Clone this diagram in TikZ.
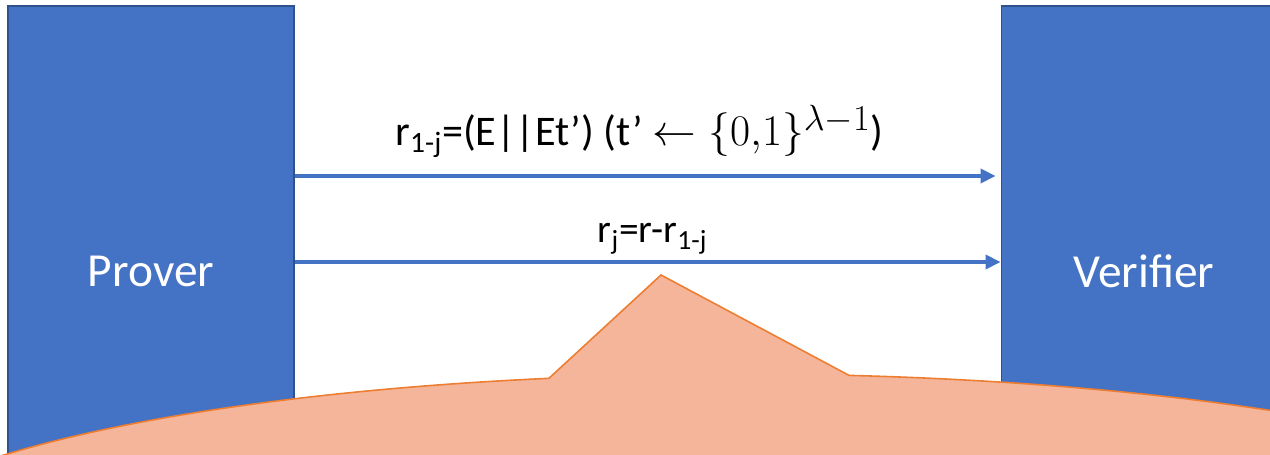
\documentclass[tikz,border=0pt]{standalone}
\usepackage[no-math]{fontspec}
\setmainfont{Carlito}
\usetikzlibrary{positioning, calc, arrows.meta}
\definecolor{Blue}{HTML}{4472C4}
\definecolor{BlueLine}{HTML}{2F528F}
\definecolor{Peach}{HTML}{F5B59B}
\definecolor{Orange}{HTML}{ED7D31}
\newcommand{\eqpart}[1]{{\fontsize{24.88}{30}\selectfont$#1$}}
\tikzset{
    party/.style={rectangle, fill=Blue, draw=BlueLine, line width=0.6pt, text=white, minimum width=5.72cm, minimum height=10.6cm, font=\fontsize{27}{32}\selectfont},
    msg/.style={-{Triangle[length=8.5pt, width=8pt]}, line width=2pt, color=Blue},
    msgtext/.style={text=black, anchor=base, font=\fontsize{22.5}{27}\selectfont},
    callout/.style={fill=Peach, draw=Orange, line width=0.9pt, line join=miter},
}

\begin{document}
\begin{tikzpicture}

        % area visibile
        \clip (0,0) rectangle (25.4,-9.1);

        % Prover e Verifier
        \node[party] (prover) at (3.02,-5.42) {Prover};
        \node[party, right=14.12cm of prover] (verifier) {Verifier};

        % Messaggi dal Prover al Verifier
        \draw[msg, shorten >=0.1cm] (prover.east |- 0,-3.52) -- (verifier.west |- 0,-3.52)
            node[msgtext, midway, yshift=0.6cm, xshift=-0.16cm, font=\fontsize{24}{28}\selectfont] (msg_first)
            {r\textsubscript{1-j}=(E||Et’) (t’ \eqpart{\leftarrow\{0{,}1\}^{\lambda-1}})};
        \draw[msg] (prover.east |- 0,-5.24) -- (verifier.west |- 0,-5.24)
            node[msgtext, midway, yshift=0.38cm, xshift=0.1cm] (msg_second)
            {r\textsubscript{j}=r-r\textsubscript{1-j}};

        % Fumetto in basso
        \coordinate (ellc) at (14.8,-11.18);
        \coordinate (peak) at (13.22,-5.5);
        \draw[callout] ($(ellc)+(102.4:17.8cm and 3.7cm)$)
            arc[start angle=102.4, end angle=442.96, x radius=17.8cm, y radius=3.7cm]
            -- (peak) -- cycle;

\end{tikzpicture}
\end{document}
